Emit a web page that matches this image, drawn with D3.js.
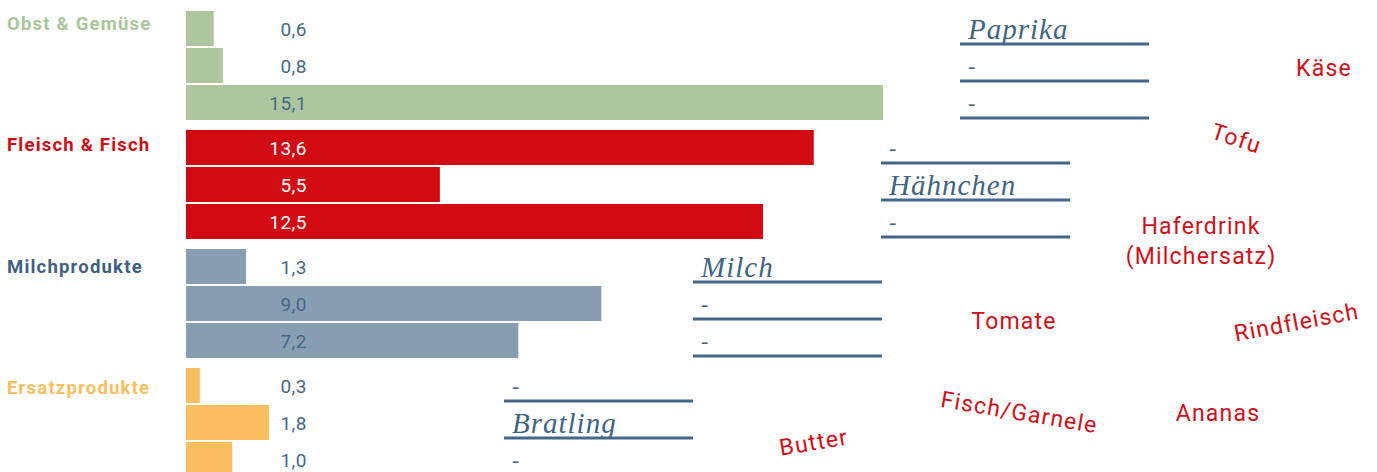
<!DOCTYPE html>
<html><head><meta charset="utf-8">
<script src="https://cdn.jsdelivr.net/npm/d3@7"></script>
<style>
html,body{margin:0;padding:0;background:#fff;}
svg{display:block;}
</style></head>
<body><svg id="c" width="1377" height="472"></svg>
<script>
// ---- data ----
const categories = ["Obst & Gemüse", "Fleisch & Fisch", "Milchprodukte", "Ersatzprodukte"];
const valuesObst = [0.6, 0.8, 15.1];
const valuesFleisch = [13.6, 5.5, 12.5];
const valuesMilch = [1.3, 9.0, 7.2];
const valuesErsatz = [0.3, 1.8, 1.0];
const answersObst = ["Paprika", "-", "-"];
const answersFleisch = ["-", "Hähnchen", "-"];
const answersMilch = ["Milch", "-", "-"];
const answersErsatz = ["-", "Bratling", "-"];
const words = ["Käse", "Tofu", "Haferdrink\n(Milchersatz)", "Tomate", "Rindfleisch", "Fisch/Garnele", "Ananas", "Butter"];

// ---- styling / layout ----
const colors = ["#adc69e", "#d20b12", "#879db1", "#f9be5f"];
const labelColors = ["#a9c69b", "#d20b12", "#3f6080", "#f9be5f"];
const valueTextColors = ["#46698a", "#ffffff", "#46698a", "#46698a"];
const answerLineStart = [960, 881, 693, 504];
const answerLineWidth = 189;
const wordLayout = [
  {x: 1324, y: 76, r: 0},
  {x: 1234, y: 146, r: 18},
  {x: 1201, y: 234, r: 0},
  {x: 1014, y: 329, r: 0},
  {x: 1298, y: 330, r: -10.5},
  {x: 1018, y: 420, r: 9.7},
  {x: 1218, y: 421, r: 0},
  {x: 815, y: 450, r: -9.5}
];

const seriesValues = [valuesObst, valuesFleisch, valuesMilch, valuesErsatz];
const seriesAnswers = [answersObst, answersFleisch, answersMilch, answersErsatz];
const data = categories.map((c, i) => ({cat: c, i, bars: seriesValues[i].map((v, j) => ({v, j, a: seriesAnswers[i][j]}))}));

const svg = d3.select("#c");
const FONT = "Roboto, 'DejaVu Sans', sans-serif";
const HAND = "'Liberation Serif', 'DejaVu Serif', serif";

const x = d3.scaleLinear().domain([0, 15.1]).range([186, 883]);
const yGroup = d3.scaleBand().domain(d3.range(categories.length)).range([11, 11 + 4 * 119]).padding(0);
const yBar = d3.scaleBand().domain([0, 1, 2]).range([0, 109]).paddingInner(2 / 37).paddingOuter(0);

const g = svg.selectAll("g.grp").data(data).join("g").attr("class", "grp")
  .attr("transform", d => `translate(0,${yGroup(d.i)})`);

// group labels
svg.selectAll("text.cat").data(data).join("text").attr("class", "cat")
  .attr("x", 7).attr("y", d => 29.5 + d.i * 121.5)
  .attr("font-family", FONT).attr("font-weight", "bold").attr("font-size", 18.5)
  .attr("letter-spacing", 1.2)
  .attr("fill", d => labelColors[d.i]).text(d => d.cat);

// bars
g.each(function(d) {
  const gg = d3.select(this);
  gg.selectAll("rect").data(d.bars).join("rect")
    .attr("x", x(0)).attr("y", b => yBar(b.j))
    .attr("width", b => x(b.v) - x(0)).attr("height", yBar.bandwidth())
    .attr("fill", colors[d.i]);
  gg.selectAll("text.val").data(d.bars).join("text").attr("class", "val")
    .attr("x", 307).attr("y", b => yBar(b.j) + yBar.bandwidth() / 2 + 7)
    .attr("text-anchor", "end")
    .attr("font-family", FONT).attr("font-size", 19)
    .attr("letter-spacing", 0.5)
    .attr("fill", valueTextColors[d.i])
    .text(b => d3.format(".1f")(b.v).replace(".", ","));
  // answer lines
  gg.selectAll("line.ans").data(d.bars).join("line").attr("class", "ans")
    .attr("x1", answerLineStart[d.i]).attr("x2", answerLineStart[d.i] + answerLineWidth)
    .attr("y1", b => yBar(b.j) + yBar.bandwidth() - 2)
    .attr("y2", b => yBar(b.j) + yBar.bandwidth() - 2)
    .attr("stroke", "#45678a").attr("stroke-width", 3);
  gg.selectAll("text.ans").data(d.bars).join("text").attr("class", "ans")
    .attr("x", answerLineStart[d.i] + 8)
    .attr("y", b => yBar(b.j) + yBar.bandwidth() - (b.a === "-" ? 10 : 7))
    .attr("font-family", HAND).attr("font-style", "italic")
    .attr("font-size", b => b.a === "-" ? 22 : 29).attr("fill", "#3f6485")
    .attr("letter-spacing", 1)
    .text(b => b.a);
});

// red word cloud
const wg = svg.selectAll("g.word").data(words).join("g").attr("class", "word")
  .attr("transform", (w, k) => `translate(${wordLayout[k].x},${wordLayout[k].y}) rotate(${wordLayout[k].r})`);
wg.each(function(w) {
  const lines = w.split("\n");
  d3.select(this).selectAll("text").data(lines).join("text")
    .attr("x", 0).attr("y", (l, k) => k * 30)
    .attr("text-anchor", "middle")
    .attr("font-family", FONT).attr("font-size", 23)
    .attr("letter-spacing", 1.2)
    .attr("fill", "#d2101a").text(l => l);
});
</script>
</body></html>
